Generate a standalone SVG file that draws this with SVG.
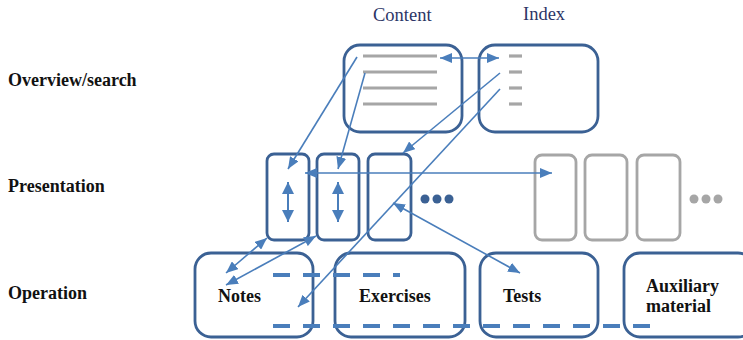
<svg xmlns="http://www.w3.org/2000/svg" width="743" height="340" viewBox="0 0 743 340">
  <style>
    .box { fill: #fff; stroke: #3b6194; stroke-width: 2.8; }
    .ghost { fill: #fff; stroke: #a6a6a6; stroke-width: 2.8; }
    .rule { stroke: #a6a6a6; stroke-width: 3.2; }
    .link { stroke: #4a7ebb; stroke-width: 1.6; fill: none; }
    .flow { stroke: #4a7ebb; stroke-width: 2; fill: none; }
    .dash { stroke: #4a7ebb; stroke-width: 4; stroke-dasharray: 17 13; fill: none; }
    .level { font-family: "Liberation Serif", "Times New Roman", serif; font-weight: bold; font-size: 18px; fill: #111; }
    .head { font-family: "Liberation Serif", "Times New Roman", serif; font-size: 18.5px; fill: #2c3566; }
    .name { font-family: "Liberation Serif", "Times New Roman", serif; font-weight: bold; font-size: 18px; fill: #111; }
  </style>
  <defs>
    <marker id="tip" viewBox="0 0 12 10" refX="12" refY="5" markerWidth="12" markerHeight="10" markerUnits="userSpaceOnUse" orient="auto-start-reverse">
      <path d="M0,0 L12,5 L0,10 Z" fill="#4a7ebb"/>
    </marker>
    <marker id="bigtip" viewBox="0 0 12 12" refX="12" refY="6" markerWidth="12" markerHeight="13" markerUnits="userSpaceOnUse" orient="auto-start-reverse">
      <path d="M0,0 L12,6 L0,12 Z" fill="#4a7ebb"/>
    </marker>
  </defs>

  <!-- level captions -->
  <text class="level" x="8" y="86">Overview/search</text>
  <text class="level" x="8" y="192">Presentation</text>
  <text class="level" x="8" y="299">Operation</text>

  <!-- column headings -->
  <text class="head" x="373" y="21">Content</text>
  <text class="head" x="523" y="20">Index</text>

  <!-- overview level -->
  <g id="content">
    <rect class="box" x="344" y="45" width="118" height="87" rx="16"/>
    <line class="rule" x1="363" y1="56" x2="437" y2="56"/>
    <line class="rule" x1="363" y1="72" x2="437" y2="72"/>
    <line class="rule" x1="363" y1="88" x2="437" y2="88"/>
    <line class="rule" x1="363" y1="104" x2="437" y2="104"/>
  </g>
  <g id="index">
    <rect class="box" x="479" y="45" width="119" height="87" rx="16"/>
    <line class="rule" x1="509" y1="56" x2="522" y2="56"/>
    <line class="rule" x1="509" y1="72" x2="522" y2="72"/>
    <line class="rule" x1="509" y1="88" x2="522" y2="88"/>
    <line class="rule" x1="509" y1="104" x2="522" y2="104"/>
  </g>

  <!-- presentation level -->
  <g id="page1">
    <rect class="box" x="267" y="154" width="42" height="86" rx="7"/>
    <line class="flow" x1="288" y1="182" x2="288" y2="222" marker-start="url(#bigtip)" marker-end="url(#bigtip)"/>
  </g>
  <g id="page2">
    <rect class="box" x="317" y="154" width="42" height="86" rx="7"/>
    <line class="flow" x1="338" y1="182" x2="338" y2="222" marker-start="url(#bigtip)" marker-end="url(#bigtip)"/>
  </g>
  <g id="page3">
    <rect class="box" x="368" y="154" width="43" height="86" rx="7"/>
  </g>
  <g id="more-pages" fill="#3b6194">
    <circle cx="425" cy="199" r="4.5"/>
    <circle cx="437" cy="199" r="4.5"/>
    <circle cx="449" cy="199" r="4.5"/>
  </g>
  <g id="other-pages">
    <rect class="ghost" x="535" y="155" width="41" height="85" rx="7"/>
    <rect class="ghost" x="585" y="155" width="42" height="85" rx="7"/>
    <rect class="ghost" x="637" y="155" width="43" height="85" rx="7"/>
    <g fill="#a6a6a6">
      <circle cx="694" cy="199" r="4.5"/>
      <circle cx="706" cy="199" r="4.5"/>
      <circle cx="718" cy="199" r="4.5"/>
    </g>
  </g>

  <!-- operation level -->
  <g id="notes">
    <rect class="box" x="195" y="253" width="118" height="84" rx="16"/>
    <text class="name" x="218" y="302">Notes</text>
  </g>
  <g id="exercises">
    <rect class="box" x="335" y="253" width="130" height="84" rx="16"/>
    <text class="name" x="359" y="302">Exercises</text>
  </g>
  <g id="tests">
    <rect class="box" x="480" y="253" width="118" height="84" rx="16"/>
    <text class="name" x="503" y="302">Tests</text>
  </g>
  <g id="auxiliary">
    <rect class="box" x="624" y="253" width="130" height="84" rx="16"/>
    <text class="name" x="646" y="292">Auxiliary</text>
    <text class="name" x="646" y="312">material</text>
  </g>

  <!-- connectors -->
  <g id="connectors">
    <line class="dash" x1="273" y1="275" x2="400" y2="275"/>
    <line class="dash" x1="273" y1="326" x2="660" y2="326"/>
    <line class="link" x1="440" y1="58" x2="499" y2="58" marker-start="url(#tip)" marker-end="url(#tip)"/>
    <line class="link" x1="357" y1="57" x2="288" y2="169" marker-end="url(#tip)"/>
    <line class="link" x1="365" y1="73" x2="338" y2="169" marker-end="url(#tip)"/>
    <line class="link" x1="500" y1="73" x2="403" y2="153" marker-end="url(#tip)"/>
    <line class="link" x1="500" y1="89" x2="298" y2="307" marker-end="url(#tip)"/>
    <line class="link" x1="305" y1="173" x2="552" y2="173" marker-start="url(#tip)" marker-end="url(#tip)"/>
    <line class="link" x1="393" y1="203" x2="520" y2="273" marker-start="url(#tip)" marker-end="url(#tip)"/>
    <line class="link" x1="267" y1="238" x2="226" y2="273" marker-start="url(#tip)" marker-end="url(#tip)"/>
    <line class="link" x1="316" y1="236" x2="226" y2="285" marker-start="url(#tip)" marker-end="url(#tip)"/>
  </g>
</svg>
